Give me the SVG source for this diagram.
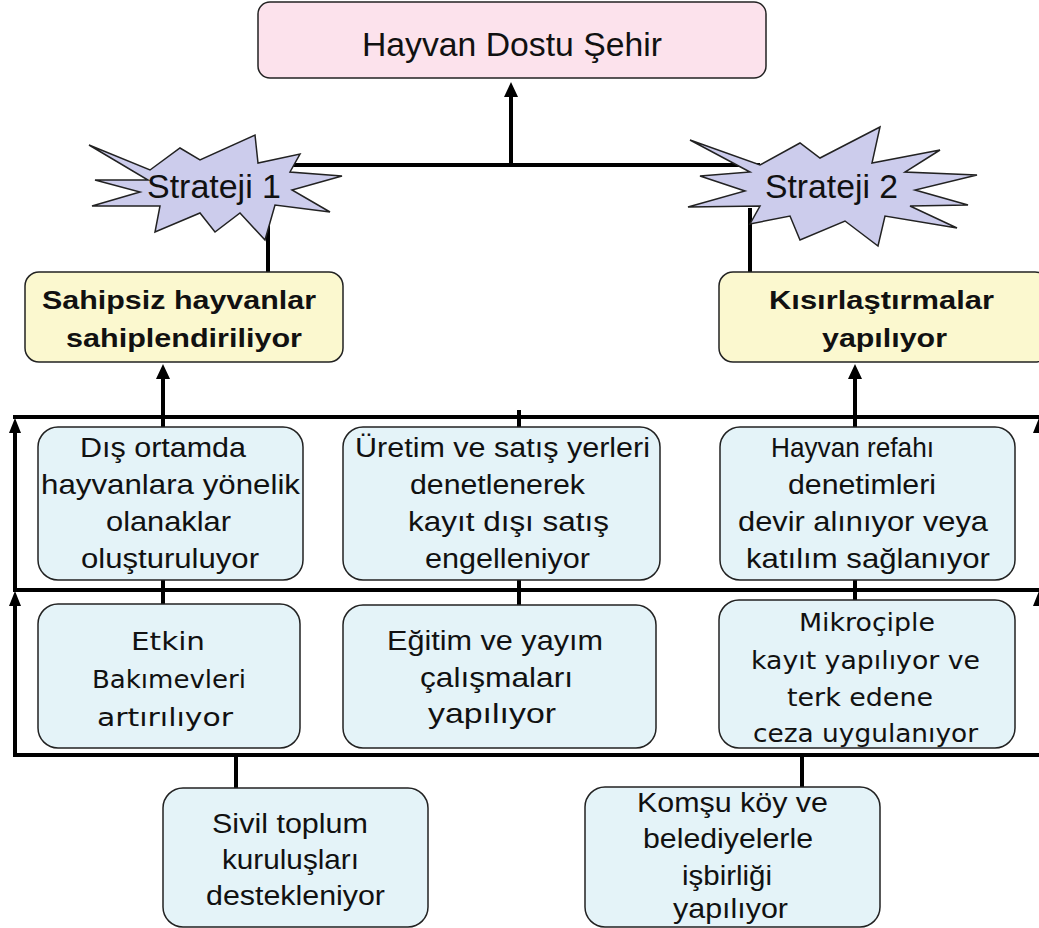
<svg xmlns="http://www.w3.org/2000/svg" width="1039" height="928" viewBox="0 0 1039 928">
<style>
.t{font-family:"Liberation Sans",Arial,sans-serif;fill:#111;font-size:27.5px}
.b{font-family:"Liberation Sans",Arial,sans-serif;font-weight:bold;fill:#111;font-size:25px}
.d{font-family:"DejaVu Sans",Tahoma,sans-serif;fill:#111;font-size:25px}
.big{font-size:33px}
.ln{stroke:#000;stroke-width:4;fill:none}
.box{stroke:#222;stroke-width:1.5}
.blue{fill:#e4f3f8}
.star{fill:#ccccec;stroke:#222;stroke-width:1.5}
</style>

<g id="connectors">
<line class="ln" x1="270" y1="165" x2="760" y2="165"/>
<line class="ln" x1="511" y1="165" x2="511" y2="94"/>
<path d="M504,97 L511,82 L518,97 Z" fill="#000"/>
<line class="ln" x1="268" y1="212" x2="268" y2="272"/>
<line class="ln" x1="750" y1="208" x2="750" y2="272"/>
<line class="ln" x1="163" y1="427" x2="163" y2="376"/>
<path d="M156,379 L163,364 L170,379 Z" fill="#000"/>
<line class="ln" x1="855" y1="427" x2="855" y2="376"/>
<path d="M848,379 L855,364 L862,379 Z" fill="#000"/>
<line class="ln" x1="13" y1="417" x2="1039" y2="417"/>
<line class="ln" x1="13" y1="590" x2="1039" y2="590"/>
<line class="ln" x1="13" y1="755" x2="1039" y2="755"/>
<line class="ln" x1="15" y1="590" x2="15" y2="430"/>
<path d="M9,433 L15,418 L21,433 Z" fill="#000"/>
<line class="ln" x1="15" y1="755" x2="15" y2="603"/>
<path d="M9,606 L15,591 L21,606 Z" fill="#000"/>
<path d="M1033,433 L1039,418 L1045,433 Z" fill="#000"/>
<path d="M1033,606 L1039,591 L1045,606 Z" fill="#000"/>
<line class="ln" x1="519" y1="410" x2="519" y2="427"/>
<line class="ln" x1="163" y1="580" x2="163" y2="604"/>
<line class="ln" x1="519" y1="580" x2="519" y2="605"/>
<line class="ln" x1="855" y1="580" x2="855" y2="600"/>
<line class="ln" x1="236" y1="755" x2="236" y2="788"/>
<line class="ln" x1="802" y1="755" x2="802" y2="787"/>
</g>

<g id="goal">
<rect class="box" x="258" y="2" width="508" height="76" rx="12" fill="#fce2ec"/>
<text class="t big" x="362" y="56" textLength="300" lengthAdjust="spacingAndGlyphs">Hayvan Dostu Şehir</text>
</g>

<g id="strateji1">
<polygon class="star" points="89,145 150,170 180,148 200,160 255,135 258,163 300,154 290,172 342,176 292,190 330,212 275,205 265,240 240,213 215,232 200,213 155,232 160,206 92,206 140,192 95,180 148,180"/>
<text class="t big" x="147" y="198" textLength="134" lengthAdjust="spacingAndGlyphs">Strateji 1</text>
</g>

<g id="strateji2">
<polygon class="star" points="690,140 760,165 800,143 820,158 880,127 872,163 940,150 905,172 977,175 915,190 968,205 910,206 957,228 885,216 878,246 845,221 800,240 790,216 750,224 760,206 688,207 745,191 700,176 750,172"/>
<text class="t big" x="765" y="198" textLength="133" lengthAdjust="spacingAndGlyphs">Strateji 2</text>
</g>

<g id="sahipsiz">
<rect class="box" x="25" y="272" width="318" height="90" rx="14" fill="#fbf8cf"/>
<text class="b" x="42" y="309" textLength="274" lengthAdjust="spacingAndGlyphs">Sahipsiz hayvanlar</text>
<text class="b" x="66" y="347" textLength="236" lengthAdjust="spacingAndGlyphs">sahiplendiriliyor</text>
</g>

<g id="kisirlastirma">
<rect class="box" x="719" y="272" width="330" height="90" rx="14" fill="#fbf8cf"/>
<text class="b" x="769" y="309" textLength="225" lengthAdjust="spacingAndGlyphs">Kısırlaştırmalar</text>
<text class="b" x="822" y="347" textLength="125" lengthAdjust="spacingAndGlyphs">yapılıyor</text>
</g>

<g id="dis-ortam">
<rect class="box blue" x="38" y="427" width="265" height="153" rx="20"/>
<text class="t" x="80" y="457" textLength="166" lengthAdjust="spacingAndGlyphs">Dış ortamda</text>
<text class="t" x="41" y="494" textLength="259" lengthAdjust="spacingAndGlyphs">hayvanlara yönelik</text>
<text class="t" x="106" y="531" textLength="125" lengthAdjust="spacingAndGlyphs">olanaklar</text>
<text class="t" x="81" y="568" textLength="178" lengthAdjust="spacingAndGlyphs">oluşturuluyor</text>
</g>

<g id="uretim">
<rect class="box blue" x="343" y="427" width="317" height="153" rx="20"/>
<text class="t" x="355" y="457" textLength="295" lengthAdjust="spacingAndGlyphs">Üretim ve satış yerleri</text>
<text class="t" x="410" y="494" textLength="175" lengthAdjust="spacingAndGlyphs">denetlenerek</text>
<text class="t" x="408" y="531" textLength="201" lengthAdjust="spacingAndGlyphs">kayıt dışı satış</text>
<text class="t" x="425" y="568" textLength="165" lengthAdjust="spacingAndGlyphs">engelleniyor</text>
</g>

<g id="refah">
<rect class="box blue" x="720" y="427" width="295" height="153" rx="20"/>
<text class="t" x="771" y="457" textLength="163" lengthAdjust="spacingAndGlyphs">Hayvan refahı</text>
<text class="t" x="788" y="494" textLength="148" lengthAdjust="spacingAndGlyphs">denetimleri</text>
<text class="t" x="738" y="531" textLength="250" lengthAdjust="spacingAndGlyphs">devir alınıyor veya</text>
<text class="t" x="746" y="568" textLength="244" lengthAdjust="spacingAndGlyphs">katılım sağlanıyor</text>
</g>

<g id="bakimevleri">
<rect class="box blue" x="38" y="604" width="262" height="144" rx="20"/>
<text class="d" x="131" y="650" textLength="74" lengthAdjust="spacingAndGlyphs">Etkin</text>
<text class="d" x="92" y="688" textLength="154" lengthAdjust="spacingAndGlyphs">Bakımevleri</text>
<text class="d" x="97" y="726" textLength="136" lengthAdjust="spacingAndGlyphs">artırılıyor</text>
</g>

<g id="egitim">
<rect class="box blue" x="343" y="605" width="313" height="143" rx="20"/>
<text class="t" x="387" y="650" textLength="216" lengthAdjust="spacingAndGlyphs">Eğitim ve yayım</text>
<text class="t" x="420" y="687" textLength="153" lengthAdjust="spacingAndGlyphs">çalışmaları</text>
<text class="t" x="428" y="723" textLength="128" lengthAdjust="spacingAndGlyphs">yapılıyor</text>
</g>

<g id="mikrocip">
<rect class="box blue" x="719" y="600" width="296" height="148" rx="20"/>
<text class="d" x="799" y="631" textLength="136" lengthAdjust="spacingAndGlyphs">Mikroçiple</text>
<text class="d" x="751" y="669" textLength="229" lengthAdjust="spacingAndGlyphs">kayıt yapılıyor ve</text>
<text class="d" x="787" y="706" textLength="146" lengthAdjust="spacingAndGlyphs">terk edene</text>
<text class="d" x="753" y="742" textLength="225" lengthAdjust="spacingAndGlyphs">ceza uygulanıyor</text>
</g>

<g id="sivil-toplum">
<rect class="box blue" x="163" y="788" width="265" height="139" rx="20"/>
<text class="t" x="212" y="833" textLength="156" lengthAdjust="spacingAndGlyphs">Sivil toplum</text>
<text class="t" x="222" y="869" textLength="137" lengthAdjust="spacingAndGlyphs">kuruluşları</text>
<text class="t" x="206" y="905" textLength="179" lengthAdjust="spacingAndGlyphs">destekleniyor</text>
</g>

<g id="komsu">
<rect class="box blue" x="585" y="787" width="295" height="140" rx="20"/>
<text class="t" x="637" y="812" textLength="191" lengthAdjust="spacingAndGlyphs">Komşu köy ve</text>
<text class="t" x="643" y="848" textLength="170" lengthAdjust="spacingAndGlyphs">belediyelerle</text>
<text class="t" x="682" y="885" textLength="90" lengthAdjust="spacingAndGlyphs">işbirliği</text>
<text class="t" x="673" y="918" textLength="115" lengthAdjust="spacingAndGlyphs">yapılıyor</text>
</g>
</svg>
